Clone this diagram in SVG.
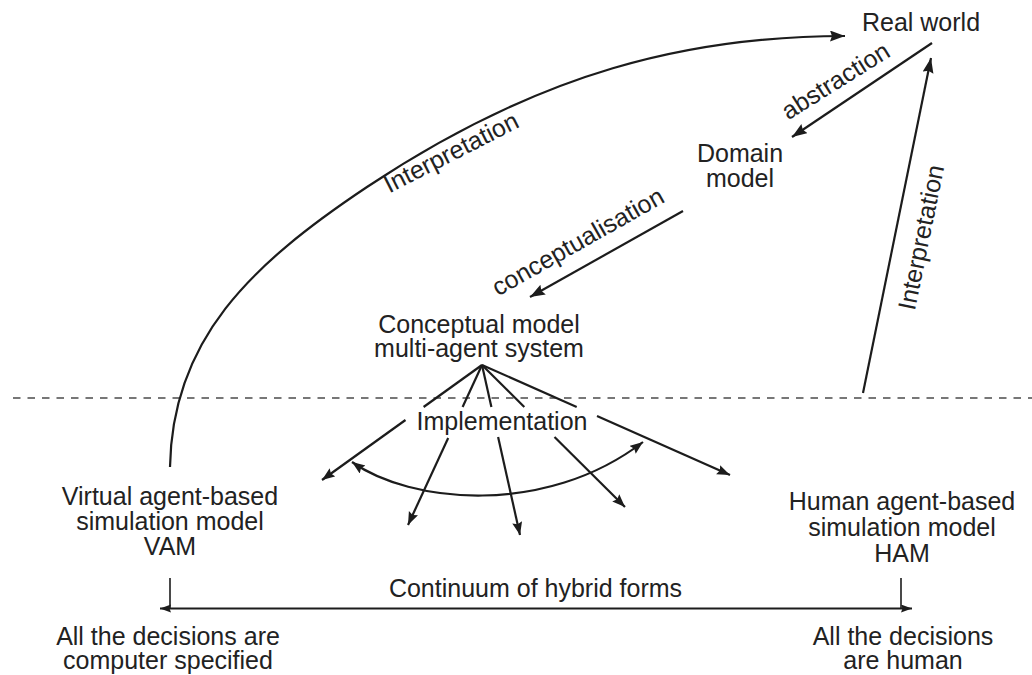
<svg xmlns="http://www.w3.org/2000/svg" width="1032" height="675" viewBox="0 0 1032 675">
  <style>
    text { font-family: "Liberation Sans", Arial, sans-serif; font-size: 25px; fill: #222; }
    .c { text-anchor: middle; }
    .ln { fill: none; stroke: #1c1c1c; stroke-width: 2.2; }
    .thin { fill: none; stroke: #1c1c1c; stroke-width: 1.6; }
    .dash { fill: none; stroke: #777; stroke-width: 2.2; stroke-dasharray: 7.5 7; }
  </style>
  <defs>
    <marker id="ah" markerUnits="userSpaceOnUse" markerWidth="16" markerHeight="12" refX="15" refY="5.5" orient="auto-start-reverse">
      <path d="M0,0 L15,5.5 L0,11 L2,5.5 z" fill="#1c1c1c"/>
    </marker>
    <marker id="ahs" markerUnits="userSpaceOnUse" markerWidth="14" markerHeight="11" refX="13" refY="5" orient="auto-start-reverse">
      <path d="M0,0 L13,5 L0,10 L2,5 z" fill="#1c1c1c"/>
    </marker>
    <marker id="ahh" markerUnits="userSpaceOnUse" markerWidth="12" markerHeight="9" refX="11" refY="4" orient="auto-start-reverse">
      <path d="M0,0 L11,4 L0,8 L1.5,4 z" fill="#1c1c1c"/>
    </marker>
  </defs>
  <rect x="0" y="0" width="1032" height="675" fill="#fff"/>

  <g id="separator">
    <line class="dash" x1="13" y1="398" x2="1032" y2="398"/>
  </g>

  <g id="connectors">
    <!-- Interpretation arc VAM -> Real world -->
    <path class="ln" d="M170,467 C172,340 250,265 367,187 C540,71.7 690,36 845,36" marker-end="url(#ah)"/>
    <!-- Interpretation HAM -> Real world -->
    <path class="ln" d="M863,393 L931,58" marker-end="url(#ah)"/>
    <!-- abstraction -->
    <path class="ln" d="M932,43 L792,137" marker-end="url(#ah)"/>
    <!-- conceptualisation -->
    <path class="ln" d="M683,211 L530,297" marker-end="url(#ah)"/>
    <!-- implementation fan -->
    <path class="ln" d="M482,365 L423.6,407"/>
    <path class="ln" d="M405.5,420 L322,480" marker-end="url(#ahs)"/>
    <path class="ln" d="M482,365 L462.6,407"/>
    <path class="ln" d="M448.2,438 L408,525" marker-end="url(#ahs)"/>
    <path class="ln" d="M482,365 L491.4,407"/>
    <path class="ln" d="M498.1,437 L520,535" marker-end="url(#ahs)"/>
    <path class="ln" d="M482,365 L524.3,407"/>
    <path class="ln" d="M554.5,437 L625,507" marker-end="url(#ahs)"/>
    <path class="ln" d="M482,365 L576.7,407"/>
    <path class="ln" d="M597,416 L730,475" marker-end="url(#ahs)"/>
    <!-- double-headed arc -->
    <path class="ln" d="M352,462 C410,503 545,517 643,442" marker-start="url(#ahs)" marker-end="url(#ahs)"/>
    <!-- continuum -->
    <path class="thin" d="M170,578 L170,608"/>
    <path class="thin" d="M901,578 L901,608"/>
    <path class="ln" d="M160,608.5 L912,608.5" marker-start="url(#ahh)" marker-end="url(#ahh)"/>
  </g>

  <g id="edge-labels">
    <text class="c" transform="translate(455,160) rotate(-27)">Interpretation</text>
    <text class="c" transform="translate(840,88) rotate(-32)">abstraction</text>
    <text class="c" transform="translate(582,249) rotate(-29.5)">conceptualisation</text>
    <text class="c" transform="translate(929.5,239) rotate(-78.5)">Interpretation</text>
    <text class="c" x="502" y="430">Implementation</text>
    <text class="c" x="535.5" y="597">Continuum of hybrid forms</text>
  </g>

  <g id="real-world">
    <text class="c" x="921" y="31">Real world</text>
  </g>
  <g id="domain-model">
    <text class="c" x="740" y="162">Domain</text>
    <text class="c" x="740" y="187">model</text>
  </g>
  <g id="conceptual-model">
    <text class="c" x="479" y="333">Conceptual model</text>
    <text class="c" x="479" y="357">multi-agent system</text>
  </g>
  <g id="vam">
    <text class="c" x="170" y="505">Virtual agent-based</text>
    <text class="c" x="170" y="530">simulation model</text>
    <text class="c" x="170" y="555">VAM</text>
  </g>
  <g id="ham">
    <text class="c" x="902" y="510">Human agent-based</text>
    <text class="c" x="902" y="536">simulation model</text>
    <text class="c" x="902" y="562">HAM</text>
  </g>
  <g id="decisions-computer">
    <text class="c" x="168" y="645">All the decisions are</text>
    <text class="c" x="168" y="669">computer specified</text>
  </g>
  <g id="decisions-human">
    <text class="c" x="903" y="645">All the decisions</text>
    <text class="c" x="903" y="669">are human</text>
  </g>
</svg>
